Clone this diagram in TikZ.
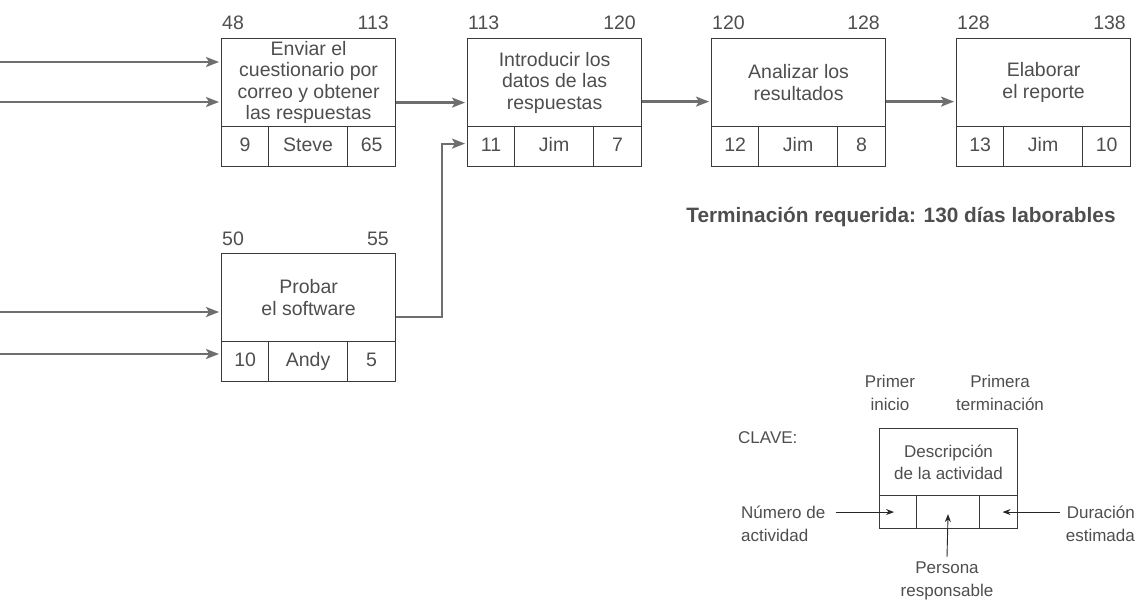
\documentclass[tikz,border=0pt]{standalone}
\usepackage{fontspec}
\setmainfont{Liberation Sans}
\usetikzlibrary{arrows.meta}
\definecolor{txt}{HTML}{4E4E4E}
\definecolor{ln}{HTML}{6E6E6E}
\definecolor{bx}{HTML}{3A3A3A}
\begin{document}
\begin{tikzpicture}[x=1pt,y=-1pt,
  desc/.style={draw=bx, line width=1.2pt, minimum width=174pt, minimum height=88pt, anchor=north west, inner sep=0pt, align=center, font=\fontsize{19.5}{21.5}\selectfont, text=txt},
  cellbox/.style={draw=bx, line width=1.2pt, minimum height=40pt, anchor=north west, inner sep=0pt, text height=14pt, text depth=4pt, font=\fontsize{19.5}{21.5}\selectfont, text=txt},
  numlab/.style={font=\fontsize{19.5}{21}\selectfont, text=txt, inner sep=0pt},
  flow/.style={draw=ln, line width=2.2pt, shorten >=2pt, -{Stealth[length=13pt,width=10pt,inset=3pt]}},
  keytxt/.style={font=\fontsize{17}{22.5}\selectfont, text=txt, inner sep=0pt},
  kdesc/.style={draw=bx, line width=1.1pt, minimum width=138pt, minimum height=67pt, anchor=north west, inner sep=0pt, align=center, font=\fontsize{17}{22}\selectfont, text=txt},
  kcell/.style={draw=bx, line width=1.1pt, minimum height=33pt, anchor=north west, inner sep=0pt},
  karrow/.style={draw=black!85, line width=0.9pt, -{Stealth[length=8pt,width=6pt]}}
]
\useasboundingbox (0,0) rectangle (1136,602);

% ---------- activity 9 ----------
\node[desc] (b1) at (221,38) {Enviar el\\cuestionario por\\correo y obtener\\las respuestas};
\node[cellbox, minimum width=47pt] (b1n) at (221,126) {9};
\node[cellbox, minimum width=79pt] (b1p) at (268,126) {Steve};
\node[cellbox, minimum width=48pt] (b1d) at (347,126) {65};
\node[numlab, anchor=base west] (b1s) at (222,30) {48};
\node[numlab, anchor=base east] (b1f) at (389,30) {113};

% ---------- activity 11 ----------
\node[desc] (b2) at (467,38) {Introducir los\\datos de las\\respuestas};
\node[cellbox, minimum width=47pt] (b2n) at (467,126) {11};
\node[cellbox, minimum width=79pt] (b2p) at (514,126) {Jim};
\node[cellbox, minimum width=48pt] (b2d) at (593,126) {7};
\node[numlab, anchor=base west] (b2s) at (468,30) {113};
\node[numlab, anchor=base east] (b2f) at (636,30) {120};

% ---------- activity 12 ----------
\node[desc] (b3) at (711,38) {Analizar los\\resultados};
\node[cellbox, minimum width=47pt] (b3n) at (711,126) {12};
\node[cellbox, minimum width=79pt] (b3p) at (758,126) {Jim};
\node[cellbox, minimum width=48pt] (b3d) at (837,126) {8};
\node[numlab, anchor=base west] (b3s) at (712,30) {120};
\node[numlab, anchor=base east] (b3f) at (880,30) {128};

% ---------- activity 13 ----------
\node[desc] (b4) at (956,38) {Elaborar\\el reporte};
\node[cellbox, minimum width=47pt] (b4n) at (956,126) {13};
\node[cellbox, minimum width=79pt] (b4p) at (1003,126) {Jim};
\node[cellbox, minimum width=48pt] (b4d) at (1082,126) {10};
\node[numlab, anchor=base west] (b4s) at (957,30) {128};
\node[numlab, anchor=base east] (b4f) at (1126,30) {138};

% ---------- activity 10 ----------
\node[desc] (p) at (221,253) {Probar\\el software};
\node[cellbox, minimum width=47pt] (pn) at (221,341) {10};
\node[cellbox, minimum width=79pt] (pp) at (268,341) {Andy};
\node[cellbox, minimum width=48pt] (pd) at (347,341) {5};
\node[numlab, anchor=base west] (ps) at (222,245) {50};
\node[numlab, anchor=base east] (pf) at (389,245) {55};

% ---------- connectors ----------
\coordinate (in1) at (0,62);
\coordinate (in2) at (0,102);
\coordinate (in3) at (0,312);
\coordinate (in4) at (0,354);
\draw[flow] (in1) -- (in1 -| b1.west);
\draw[flow] (in2) -- (in2 -| b1.west);
\draw[flow] (in3) -- (in3 -| p.west);
\draw[flow] (in4) -- (in4 -| pn.west);
\draw[flow] ([yshift=-20pt]b1.east) -- ([yshift=-20pt]b2.west);
\draw[flow] ([yshift=-19pt]b2.east) -- ([yshift=-19pt]b3.west);
\draw[flow] ([yshift=-19pt]b3.east) -- ([yshift=-19pt]b4.west);
\draw[flow] ([yshift=-19pt]p.east) -| ([xshift=-25pt,yshift=3pt]b2n.west) -- ([yshift=3pt]b2n.west);

% ---------- requirement ----------
\node[font=\bfseries\fontsize{20.8}{24}\selectfont, text=txt, inner sep=0pt] (req) at (901,217) {Terminación requerida: 130 días laborables};

% ---------- key ----------
\node[keytxt, anchor=west] (clave) at (738,438) {CLAVE:};
\node[keytxt, align=center] (kps) at (890,393) {Primer\\inicio};
\node[keytxt, align=center] (kpf) at (1000,393) {Primera\\terminación};
\node[kdesc] (kd) at (879,428) {Descripción\\de la actividad};
\node[kcell, minimum width=37pt] (k1) at (879,495) {};
\node[kcell, minimum width=63pt] (k2) at (916,495) {};
\node[kcell, minimum width=38pt] (k3) at (979,495) {};
\node[keytxt, align=left, anchor=west] (knum) at (741,524) {Número de\\actividad};
\node[keytxt, align=right, anchor=east] (kdur) at (1135,524) {Duración\\estimada};
\node[keytxt, align=center] (kper) at (947,581) {Persona\\responsable};
\draw[karrow] ([xshift=10pt]knum.east |- k1.center) -- ([xshift=-4pt]k1.center);
\draw[karrow] ([xshift=-6pt]kdur.west |- k3.center) -- ([xshift=4pt]k3.center);
\draw[karrow] ([yshift=5pt]kper.north) -- ([yshift=-2pt]k2.center);
\end{tikzpicture}
\end{document}
